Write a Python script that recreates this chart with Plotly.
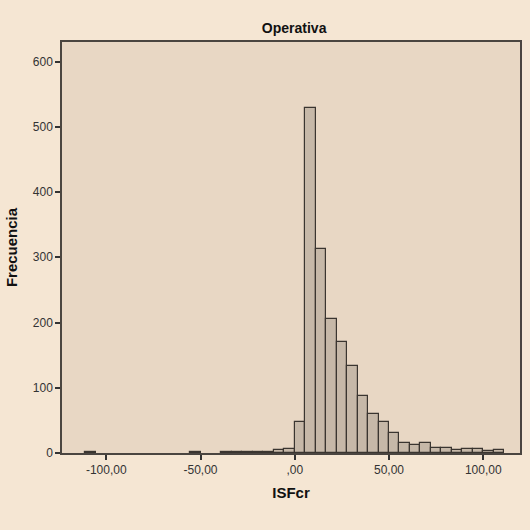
import plotly.graph_objects as go

# Histogram of ISFcr (bin width = 100/18)
bin_width = 100 / 18
bin_index = [-20, -10, -7, -6, -5, -4, -3, -2, -1,
             0, 1, 2, 3, 4, 5, 6, 7, 8, 9,
             10, 11, 12, 13, 14, 15, 16, 17, 18, 19]
counts = [1, 1, 1, 1, 1, 1, 2, 4, 6,
          48, 529, 313, 206, 170, 134, 88, 60, 48, 30,
          15, 13, 15, 7, 7, 5, 6, 6, 3, 5]

x_tick_vals = [-100, -50, 0, 50, 100]
x_tick_text = ["-100,00", "-50,00", ",00", "50,00", "100,00"]
y_tick_vals = [0, 100, 200, 300, 400, 500, 600]

centers = [(i + 0.5) * bin_width for i in bin_index]

fig = go.Figure(go.Bar(
    x=centers, y=counts, width=bin_width,
    marker=dict(color="#C6B8A8", line=dict(color="#3A3530", width=1.2)),
    hoverinfo="x+y",
))

font = "Liberation Sans, Arial, sans-serif"
fig.update_layout(
    width=530, height=530,
    margin=dict(l=62, r=8, t=42, b=77),
    paper_bgcolor="#F5E6D3",
    plot_bgcolor="#E8D7C4",
    showlegend=False,
    bargap=0,
    title=dict(text="<b>Operativa</b>", x=0.555, xanchor="center", y=0.947, yanchor="middle",
               font=dict(family=font, size=14, color="#111")),
    font=dict(family=font, size=12, color="#333"),
)
fig.update_xaxes(
    range=[-123.5, 119.5], tickvals=x_tick_vals, ticktext=x_tick_text,
    ticks="outside", ticklen=5, tickcolor="#333", tickwidth=1.5,
    showline=True, linecolor="#4A4540", linewidth=1.5, mirror=True,
    showgrid=False, zeroline=False,
    title=dict(text="<b>ISFcr</b>", font=dict(family=font, size=15, color="#111"), standoff=11),
    tickfont=dict(size=12, color="#333"),
)
fig.update_yaxes(
    range=[0, 630], tickvals=y_tick_vals,
    ticks="outside", ticklen=5, tickcolor="#333", tickwidth=1.5,
    showline=True, linecolor="#4A4540", linewidth=1.5, mirror=True,
    showgrid=False, zeroline=False,
    title=dict(text="<b>Frecuencia</b>", font=dict(family=font, size=15, color="#111"), standoff=12),
    tickfont=dict(size=12, color="#333"),
)

fig.write_html("out.html")
